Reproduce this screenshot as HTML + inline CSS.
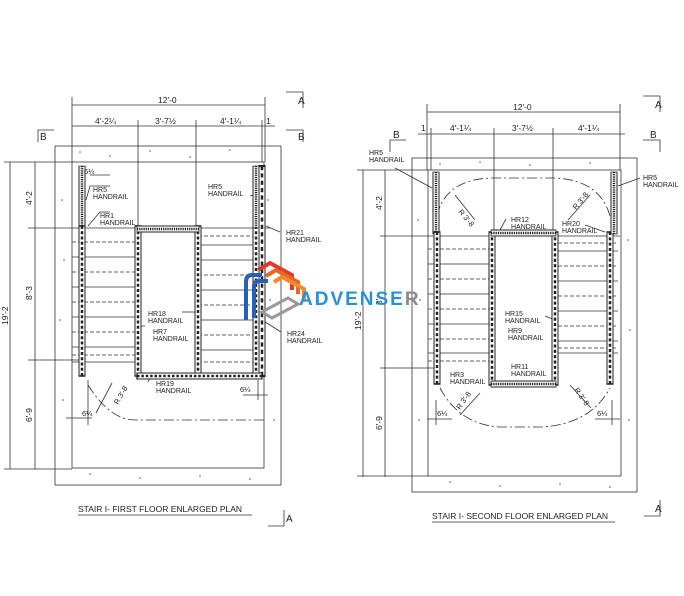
<!DOCTYPE html>
<html><head><meta charset="utf-8"><style>
html,body{margin:0;padding:0;background:#fff}
svg{display:block}
text{font-family:"Liberation Sans",sans-serif;fill:#222}
.t{font-size:7px}
.d{font-size:8.5px}
</style></head><body>
<svg width="684" height="596" viewBox="0 0 684 596" xmlns="http://www.w3.org/2000/svg">
<defs>
<g id="rail"><rect x="-3" y="0" width="6" height="100" fill="#fff" stroke="#222" stroke-width="1"/><line x1="0" y1="0" x2="0" y2="100" stroke="#222" stroke-width="2.5" stroke-dasharray="2 1.5"/></g>
</defs>
<g stroke="#333" stroke-width="0.8" fill="none">
<rect x="55" y="146" width="226" height="339"/>
<rect x="72" y="162" width="192" height="306"/>
<line x1="72" y1="105" x2="265" y2="105"/>
<line x1="72" y1="97" x2="72" y2="162"/><line x1="265" y1="97" x2="265" y2="162"/>
<line x1="72" y1="126" x2="275" y2="126"/>
<line x1="138" y1="120" x2="138" y2="230"/><line x1="196" y1="120" x2="196" y2="230"/><line x1="262" y1="120" x2="262" y2="162"/>
<line x1="10" y1="162" x2="10" y2="469"/><line x1="35" y1="162" x2="35" y2="469"/>
<line x1="4" y1="162" x2="72" y2="162"/><line x1="28" y1="228" x2="270" y2="228"/><line x1="4" y1="469" x2="72" y2="469"/>
<line x1="28" y1="360" x2="80" y2="360"/>
<polyline points="38,142 38,130 54,130"/><polyline points="286,92 303,92 303,108"/><polyline points="286,130 303,130 303,142"/>
<polyline points="284,510 284,526 268,526"/>
<g>
<line x1="72" y1="242" x2="137" y2="242" stroke-dasharray="4 2"/><line x1="72" y1="257" x2="137" y2="257"/>
<line x1="72" y1="272" x2="137" y2="272" stroke-dasharray="4 2"/><line x1="72" y1="287" x2="137" y2="287"/>
<line x1="72" y1="302" x2="137" y2="302" stroke-dasharray="4 2"/><line x1="72" y1="317" x2="137" y2="317"/>
<line x1="72" y1="332" x2="137" y2="332" stroke-dasharray="4 2"/><line x1="72" y1="347" x2="137" y2="347"/>
<line x1="72" y1="355" x2="137" y2="355" stroke-dasharray="4 2"/><line x1="72" y1="362" x2="137" y2="362"/>
<line x1="198" y1="236" x2="262" y2="236" stroke-dasharray="4 2"/><line x1="198" y1="245" x2="262" y2="245"/>
<line x1="198" y1="260" x2="262" y2="260"/><line x1="198" y1="275" x2="262" y2="275" stroke-dasharray="4 2"/>
<line x1="198" y1="290" x2="262" y2="290"/><line x1="198" y1="305" x2="262" y2="305" stroke-dasharray="4 2"/>
<line x1="198" y1="320" x2="262" y2="320"/><line x1="198" y1="335" x2="262" y2="335" stroke-dasharray="4 2"/>
<line x1="198" y1="350" x2="262" y2="350"/><line x1="198" y1="362" x2="262" y2="362" stroke-dasharray="4 2"/>
</g>
<path d="M88,385 Q110,420 135,420 L264,420" stroke-dasharray="10 3 2 3"/>
<line x1="112" y1="383" x2="96" y2="413"/>
<line x1="66" y1="418" x2="92" y2="418"/><line x1="88" y1="380" x2="88" y2="425"/>
<line x1="243" y1="395" x2="268" y2="395"/><line x1="258" y1="380" x2="258" y2="400"/>
<line x1="90" y1="175" x2="110" y2="175"/>

<rect x="412" y="158" width="225" height="334"/>
<rect x="428" y="170" width="193" height="306"/>
<line x1="427" y1="112" x2="620" y2="112"/>
<line x1="427" y1="104" x2="427" y2="170"/><line x1="620" y1="104" x2="620" y2="170"/>
<line x1="418" y1="134" x2="625" y2="134"/>
<line x1="494" y1="128" x2="494" y2="232"/><line x1="553" y1="128" x2="553" y2="232"/><line x1="431" y1="128" x2="431" y2="170"/>
<line x1="363" y1="170" x2="363" y2="477"/><line x1="385" y1="170" x2="385" y2="477"/>
<line x1="357" y1="170" x2="428" y2="170"/><line x1="380" y1="236" x2="620" y2="236"/><line x1="357" y1="476" x2="428" y2="476"/>
<line x1="380" y1="368" x2="438" y2="368"/>
<polyline points="390,152 390,140 406,140"/><polyline points="643,96 660,96 660,112"/><polyline points="643,140 660,140 660,152"/>
<polyline points="660,500 660,516 644,516"/>
<g>
<line x1="428" y1="249" x2="490" y2="249" stroke-dasharray="4 2"/><line x1="428" y1="264" x2="490" y2="264"/>
<line x1="428" y1="279" x2="490" y2="279" stroke-dasharray="4 2"/><line x1="428" y1="294" x2="490" y2="294"/>
<line x1="428" y1="309" x2="490" y2="309" stroke-dasharray="4 2"/><line x1="428" y1="324" x2="490" y2="324"/>
<line x1="428" y1="339" x2="490" y2="339" stroke-dasharray="4 2"/><line x1="428" y1="353" x2="490" y2="353"/>
<line x1="428" y1="361" x2="490" y2="361" stroke-dasharray="4 2"/>
<line x1="558" y1="243" x2="618" y2="243" stroke-dasharray="4 2"/><line x1="558" y1="251" x2="618" y2="251"/>
<line x1="558" y1="266" x2="618" y2="266" stroke-dasharray="4 2"/><line x1="558" y1="281" x2="618" y2="281"/>
<line x1="558" y1="296" x2="618" y2="296" stroke-dasharray="4 2"/><line x1="558" y1="311" x2="618" y2="311"/>
<line x1="558" y1="326" x2="618" y2="326" stroke-dasharray="4 2"/><line x1="558" y1="341" x2="618" y2="341"/>
<line x1="558" y1="348" x2="618" y2="348" stroke-dasharray="4 2"/><line x1="558" y1="353" x2="618" y2="353"/>
</g>
<path d="M437,216 Q445,180 490,178 L555,178 Q600,180 610,216" stroke-dasharray="10 3 2 3"/>
<line x1="455" y1="195" x2="475" y2="220"/><line x1="590" y1="195" x2="568" y2="220"/>
<path d="M440,388 Q460,425 500,427 L540,427 Q590,425 610,388" stroke-dasharray="10 3 2 3"/>
<line x1="480" y1="393" x2="460" y2="415"/><line x1="570" y1="385" x2="591" y2="408"/>
<line x1="427" y1="419" x2="452" y2="419"/><line x1="436" y1="400" x2="436" y2="425"/>
<line x1="595" y1="419" x2="620" y2="419"/><line x1="612" y1="400" x2="612" y2="425"/>
<path d="M110,186 L90,186 L86,200"/><path d="M110,212 L100,212 L88,226"/>
<path d="M250,196 L262,192"/><path d="M280,232 L266,226"/><path d="M281,332 L262,320"/>
<path d="M182,312 L196,312"/><path d="M145,326 L140,326"/><path d="M150,378 L148,382"/>
<path d="M395,168 L432,188"/><path d="M640,178 L618,186"/><path d="M506,219 L500,230"/>
<path d="M585,225 L605,232"/><path d="M545,316 L555,320"/>
</g>
<use href="#rail" transform="translate(82,166) scale(1,0.62)"/>
<use href="#rail" transform="translate(82,226) scale(1,1.5)"/>
<use href="#rail" transform="translate(138,226) scale(1,1.5)"/>
<use href="#rail" transform="translate(198,226) scale(1,1.5)"/>
<use href="#rail" transform="translate(256,226) scale(1,1.5)"/>
<use href="#rail" transform="translate(262,166) scale(1,2.1)"/>
<use href="#rail" transform="translate(256,166) scale(1,0.62)"/>
<use href="#rail" transform="translate(137,229) rotate(-90) scale(1,0.62)"/>
<use href="#rail" transform="translate(137,376) rotate(-90) scale(1,1.25)"/>
<use href="#rail" transform="translate(436,172) scale(1,0.62)"/>
<use href="#rail" transform="translate(437,232) scale(1,1.52)"/>
<use href="#rail" transform="translate(492,232) scale(1,1.53)"/>
<use href="#rail" transform="translate(555,232) scale(1,1.53)"/>
<use href="#rail" transform="translate(610,232) scale(1,1.52)"/>
<use href="#rail" transform="translate(614,172) scale(1,0.62)"/>
<use href="#rail" transform="translate(491,233) rotate(-90) scale(1,0.65)"/>
<use href="#rail" transform="translate(491,384) rotate(-90) scale(1,0.65)"/>
<g fill="#555">
<circle cx="80" cy="152" r="0.8"/><circle cx="110" cy="156" r="0.8"/><circle cx="150" cy="151" r="0.8"/><circle cx="190" cy="157" r="0.8"/><circle cx="230" cy="150" r="0.8"/><circle cx="268" cy="200" r="0.8"/><circle cx="62" cy="200" r="0.8"/><circle cx="64" cy="260" r="0.8"/><circle cx="60" cy="320" r="0.8"/><circle cx="63" cy="400" r="0.8"/><circle cx="270" cy="300" r="0.8"/><circle cx="274" cy="420" r="0.8"/><circle cx="90" cy="474" r="0.8"/><circle cx="140" cy="478" r="0.8"/><circle cx="200" cy="476" r="0.8"/><circle cx="250" cy="479" r="0.8"/>
<circle cx="440" cy="164" r="0.8"/><circle cx="480" cy="162" r="0.8"/><circle cx="530" cy="165" r="0.8"/><circle cx="590" cy="163" r="0.8"/><circle cx="418" cy="220" r="0.8"/><circle cx="420" cy="300" r="0.8"/><circle cx="419" cy="420" r="0.8"/><circle cx="628" cy="240" r="0.8"/><circle cx="630" cy="330" r="0.8"/><circle cx="629" cy="420" r="0.8"/><circle cx="450" cy="482" r="0.8"/><circle cx="500" cy="486" r="0.8"/><circle cx="560" cy="484" r="0.8"/><circle cx="610" cy="487" r="0.8"/>
</g>
<g class="d">
<text x="158" y="103">12'-0</text>
<text x="95" y="124">4'-2¼</text><text x="155" y="124">3'-7½</text><text x="220" y="124">4'-1¼</text><text x="266" y="124">1</text>
<text x="513" y="110">12'-0</text>
<text x="450" y="131">4'-1¼</text><text x="512" y="131">3'-7½</text><text x="578" y="131">4'-1¼</text><text x="421" y="131">1</text>
<text x="298" y="104" font-size="10">A</text><text x="298" y="140" font-size="10">B</text><text x="40" y="140" font-size="10">B</text><text x="286" y="522" font-size="10">A</text>
<text x="655" y="108" font-size="10">A</text><text x="650" y="138" font-size="10">B</text><text x="393" y="138" font-size="10">B</text><text x="655" y="512" font-size="10">A</text>
<text transform="translate(32,205) rotate(-90)">4'-2</text>
<text transform="translate(32,300) rotate(-90)">8'-3</text>
<text transform="translate(32,422) rotate(-90)">6'-9</text>
<text transform="translate(8,325) rotate(-90)">19'-2</text>
<text transform="translate(382,210) rotate(-90)">4'-2</text>
<text transform="translate(382,305) rotate(-90)">8'</text>
<text transform="translate(382,430) rotate(-90)">6'-9</text>
<text transform="translate(361,330) rotate(-90)">19'-2</text>
<text x="84" y="174" font-size="7.5">6¼</text><text x="82" y="416" font-size="7.5">6¼</text><text x="240" y="392" font-size="7.5">6¼</text>
<text x="437" y="416" font-size="7.5">6¼</text><text x="597" y="416" font-size="7.5">6¼</text>
<text transform="translate(118,405) rotate(-60)" font-size="7.5">R 3'-8</text>
<text transform="translate(458,212) rotate(50)" font-size="7.5">R 3'-8</text>
<text transform="translate(576,210) rotate(-50)" font-size="7.5">R 3'-8</text>
<text transform="translate(460,410) rotate(-55)" font-size="7.5">R 3'-8</text>
<text transform="translate(574,390) rotate(55)" font-size="7.5">R 3'-8</text>
</g>
<g class="t">
<text x="93" y="192">HR5</text><text x="93" y="199">HANDRAIL</text>
<text x="100" y="218">HR1</text><text x="100" y="225">HANDRAIL</text>
<text x="208" y="189">HR5</text><text x="208" y="196">HANDRAIL</text>
<text x="286" y="235">HR21</text><text x="286" y="242">HANDRAIL</text>
<text x="148" y="316">HR18</text><text x="148" y="323">HANDRAIL</text>
<text x="153" y="334">HR7</text><text x="153" y="341">HANDRAIL</text>
<text x="287" y="336">HR24</text><text x="287" y="343">HANDRAIL</text>
<text x="156" y="386">HR19</text><text x="156" y="393">HANDRAIL</text>
<text x="369" y="155">HR5</text><text x="369" y="162">HANDRAIL</text>
<text x="643" y="180">HR5</text><text x="643" y="187">HANDRAIL</text>
<text x="511" y="222">HR12</text><text x="511" y="229">HANDRAIL</text>
<text x="562" y="226">HR20</text><text x="562" y="233">HANDRAIL</text>
<text x="505" y="316">HR15</text><text x="505" y="323">HANDRAIL</text>
<text x="508" y="333">HR9</text><text x="508" y="340">HANDRAIL</text>
<text x="511" y="369">HR11</text><text x="511" y="376">HANDRAIL</text>
<text x="450" y="377">HR3</text><text x="450" y="384">HANDRAIL</text>
</g>
<text x="78" y="512" font-size="8.5">STAIR I- FIRST FLOOR ENLARGED PLAN</text>
<line x1="78" y1="515" x2="252" y2="515" stroke="#333" stroke-width="0.7"/>
<text x="432" y="519" font-size="8.5">STAIR I- SECOND FLOOR ENLARGED PLAN</text>
<line x1="432" y1="522" x2="615" y2="522" stroke="#333" stroke-width="0.7"/>
<g fill="none" stroke-width="4">
<path d="M246,320 L246,282 Q246,275 252,275 L262,275" stroke="#2a5fb8"/>
<path d="M254,318 L254,286 Q254,281 260,281 L268,281" stroke="#2a5fb8"/>
<path d="M258,270 L270,263 L292,275 L292,290" stroke="#e23a2a"/>
<path d="M266,276 L276,270 L298,282 L298,294" stroke="#e8652a"/>
<path d="M274,282 L282,277 L304,289 L304,300" stroke="#f08a2a"/>
<path d="M262,312 L288,298 L298,304 L272,318 Z" stroke="#999" stroke-width="3"/>
</g>
<text x="299" y="305" font-size="19" font-weight="bold" style="fill:#2a8fd8;letter-spacing:2px">ADVENSE<tspan style="fill:#8a8a8a">R</tspan></text>
</svg>
</body></html>
